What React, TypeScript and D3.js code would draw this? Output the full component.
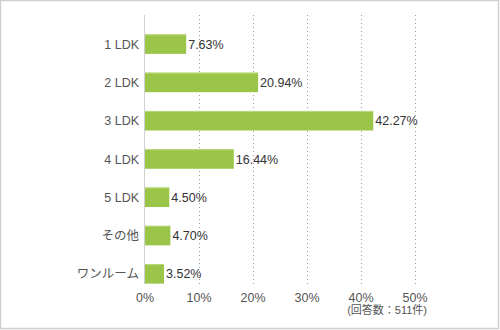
import React from "react";
import * as d3 from "d3";

const categories = ["1 LDK", "2 LDK", "3 LDK", "4 LDK", "5 LDK", "その他", "ワンルーム"];
const values = [7.63, 20.94, 42.27, 16.44, 4.5, 4.7, 3.52];
const ticks = [0, 10, 20, 30, 40, 50];
const note = "(回答数：511件)";

const W = 500;
const H = 330;
const FONT = "'Liberation Sans', Arial, 'Noto Sans CJK JP', sans-serif";

export default function App() {
  const x = d3.scaleLinear().domain([0, 50]).range([145, 415]);
  const y = d3.scaleBand<string>().domain(categories).range([25, 293]).paddingInner(0.49).paddingOuter(0.245);
  const gridTop = 15;
  const gridBottom = 284;
  return (
    <svg width={W} height={H} style={{ position: "absolute", left: 0, top: 0, background: "#fff" }} fontFamily={FONT}>
      <rect x={0.5} y={0.5} width={W - 2} height={H - 2} fill="#fff" stroke="#cfcfcf" strokeWidth={1.5} />
      {ticks.slice(1).map((t) => (
        <line key={t} x1={Math.round(x(t)) + 0.5} x2={Math.round(x(t)) + 0.5} y1={gridTop} y2={gridBottom} stroke="#999" strokeWidth={1} strokeDasharray="1,3" />
      ))}
      <line x1={144.5} x2={144.5} y1={gridTop} y2={gridBottom} stroke="#d0d0d0" strokeWidth={1} />
      {categories.map((c, i) => {
        const yy = y(c)!;
        const bw = y.bandwidth();
        return (
          <g key={c}>
            <rect x={x(0)} y={yy} width={x(values[i]) - x(0)} height={bw} fill="#9bc548" />
            <line x1={x(0)} x2={x(values[i])} y1={yy + 0.5} y2={yy + 0.5} stroke="#b9d97c" strokeWidth={1} />
            <text x={x(values[i]) + 2} y={yy + bw / 2} dy="0.36em" fontSize={12.5} fill="#333">
              {values[i].toFixed(2) + "%"}
            </text>
            <text x={139} y={yy + bw / 2} dy="0.36em" fontSize={12.5} fill="#555" textAnchor="end">
              {c}
            </text>
          </g>
        );
      })}
      {ticks.map((t) => (
        <text key={t} x={x(t)} y={297} dy="0.36em" fontSize={12.5} fill="#555" textAnchor="middle">
          {t + "%"}
        </text>
      ))}
      <text x={427} y={310.5} dy="0.36em" fontSize={11} fill="#555" textAnchor="end">
        {note}
      </text>
    </svg>
  );
}
